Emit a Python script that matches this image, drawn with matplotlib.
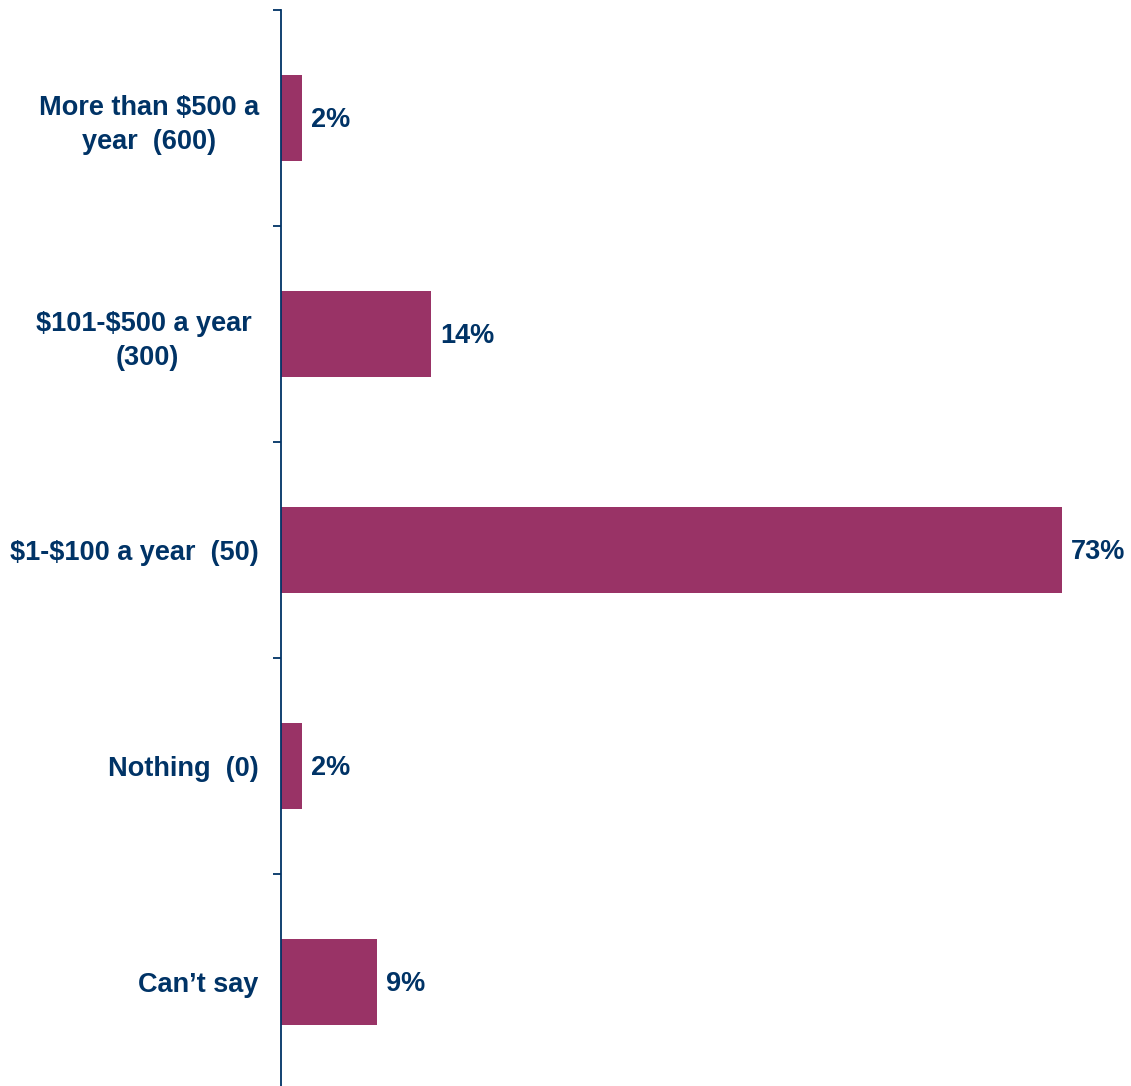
import matplotlib
matplotlib.use("Agg")
import matplotlib.pyplot as plt

categories = [
    "More than $500 a\nyear  (600)",
    "$101-$500 a year \n(300)",
    "$1-$100 a year  (50)",
    "Nothing  (0)",
    "Can\u2019t say",
]
values = [2, 14, 73, 2, 9]
value_labels = ["2%", "14%", "73%", "2%", "9%"]

BAR_COLOR = "#993366"
TEXT_COLOR = "#003366"

plt.rcParams["font.family"] = ["Liberation Sans", "DejaVu Sans"]
plt.rcParams["text.parse_math"] = False

W, H = 1131, 1086
fig = plt.figure(figsize=(W / 100, H / 100), dpi=100)
ax = fig.add_axes([281 / W, 1 - 1090 / H, 850 / W, 1080 / H])

ypos = list(range(len(categories)))
ax.barh(ypos, values, height=0.40, color=BAR_COLOR, zorder=2)
ax.set_ylim(len(categories) - 0.5, -0.5)
ax.set_xlim(0, 73 * 850 / 781)

for y, v, lab in zip(ypos, values, value_labels):
    ax.annotate(lab, (v, y), xytext=(6.5, -1.5), textcoords="offset points",
                ha="left", va="center", fontsize=19.5, fontweight="bold",
                color=TEXT_COLOR)

# category boundaries carry the tick marks; labels sit at the bar centres
ax.set_yticks([i - 0.5 for i in range(len(categories) + 1)])
ax.set_yticklabels([])
ax.tick_params(axis="y", which="major", length=6, width=1.3, color=TEXT_COLOR)
ax.set_yticks(ypos, minor=True)
ax.set_yticklabels(categories, minor=True, fontsize=19.5, fontweight="bold",
                   color=TEXT_COLOR, multialignment="center", linespacing=1.4)
ax.tick_params(axis="y", which="minor", length=0, pad=16)

ax.set_xticks([])
for s in ("top", "right", "bottom"):
    ax.spines[s].set_visible(False)
ax.spines["left"].set_color(TEXT_COLOR)
ax.spines["left"].set_linewidth(1.3)

fig.savefig("out.png", dpi=100, facecolor="white")
